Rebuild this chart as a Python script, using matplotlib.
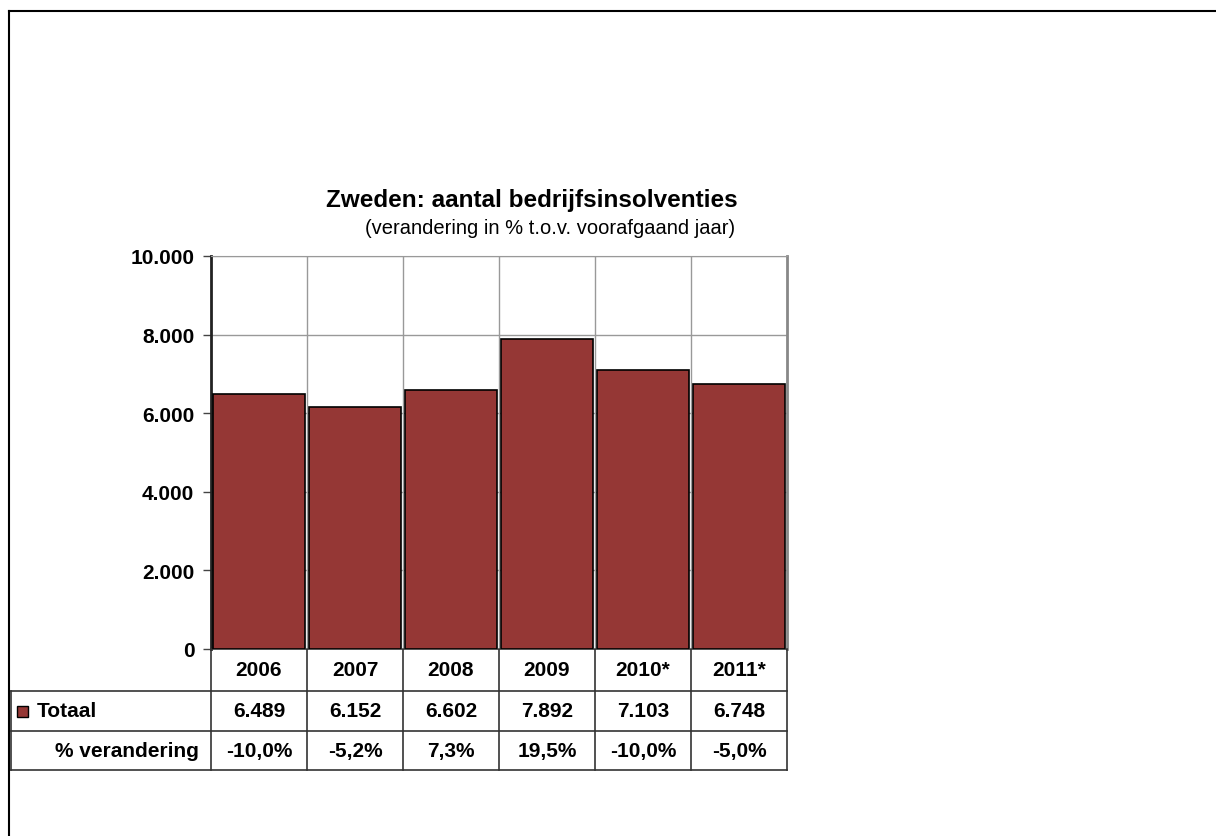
import matplotlib.pyplot as plt
from matplotlib.lines import Line2D
from matplotlib.patches import Rectangle
import numpy as np

plt.rcParams['font.family'] = ['Liberation Sans', 'DejaVu Sans']

# data
years = ["2006", "2007", "2008", "2009", "2010*", "2011*"]
totaal = [6489, 6152, 6602, 7892, 7103, 6748]
pct_change = [-10.0, -5.2, 7.3, 19.5, -10.0, -5.0]
y_ticks = [0, 2000, 4000, 6000, 8000, 10000]

BAR = "#953735"
W, H = 1216, 837
FS = 15


def nl_int(v):
    return f"{v:,}".replace(",", ".")


def nl_pct(v):
    return f"{v:.1f}%".replace(".", ",")


fig = plt.figure(figsize=(W / 100, H / 100), dpi=100)

# outer frame (left and top only)
fig.add_artist(Line2D([9 / W, 9 / W], [0, 1 - 12 / H], color="black", lw=1.5))
fig.add_artist(Line2D([9 / W, 1], [1 - 12 / H, 1 - 12 / H], color="black", lw=1.5))

# plot area in pixels
x0, x1, y_top, y_bot = 211, 787, 257, 650
ax = fig.add_axes([x0 / W, 1 - y_bot / H, (x1 - x0) / W, (y_bot - y_top) / H])
x = np.arange(len(years))
ax.bar(x, totaal, width=0.95, color=BAR, edgecolor="black", linewidth=1.2, zorder=3)
ax.set_xlim(-0.5, len(years) - 0.5)
ax.set_ylim(0, 10000)
ax.set_yticks(y_ticks)
ax.set_yticklabels([nl_int(v) for v in y_ticks], fontsize=FS, fontweight="bold")
ax.tick_params(axis="y", length=6, width=1, color="#444444", pad=6)
ax.set_xticks([])
for v in y_ticks[1:]:
    ax.axhline(v, color="#999999", lw=1, zorder=1)
for b in np.arange(0.5, len(years) - 0.5, 1):
    ax.axvline(b, color="#999999", lw=1, zorder=1)
ax.spines["left"].set_color("#222222")
ax.spines["left"].set_linewidth(2)
ax.spines["top"].set_color("#999999")
ax.spines["right"].set_color("#888888")
ax.spines["right"].set_linewidth(2)
ax.spines["bottom"].set_visible(False)

fig.text(532 / W, 1 - 200 / H, "Zweden: aantal bedrijfsinsolventies",
         ha="center", va="center", fontsize=17.5, fontweight="bold")
fig.text(550 / W, 1 - 229 / H, "(verandering in % t.o.v. voorafgaand jaar)",
         ha="center", va="center", fontsize=14.5)

# data table below the axes
cat_w = (x1 - x0) / len(years)
t_left, t_bot = 11, 771
tx0 = -0.5 - (x0 - t_left) / cat_w
tax = fig.add_axes([t_left / W, 1 - t_bot / H, (x1 - t_left) / W, (t_bot - y_bot) / H])
rows = [0, 42, 82, 121]  # row boundaries in pixels from top of table
tax.set_xlim(tx0, len(years) - 0.5)
tax.set_ylim(rows[-1], 0)
tax.axis("off")
lc = "#333333"
# horizontal lines
tax.plot([-0.5, len(years) - 0.5], [0, 0], color=lc, lw=1.2)
for r in rows[1:]:
    tax.plot([tx0, len(years) - 0.5], [r, r], color=lc, lw=1.2, clip_on=False)
# vertical lines
tax.plot([tx0, tx0], [rows[1], rows[-1]], color=lc, lw=1.2, clip_on=False)
for b in np.arange(-0.5, len(years), 1):
    tax.plot([b, b], [0, rows[-1]], color=lc, lw=1.2, clip_on=False)

for i, yr in enumerate(years):
    tax.text(i, (rows[0] + rows[1]) / 2, yr, ha="center", va="center",
             fontsize=FS, fontweight="bold")
    tax.text(i, (rows[1] + rows[2]) / 2, nl_int(totaal[i]), ha="center", va="center",
             fontsize=FS, fontweight="bold")
    tax.text(i, (rows[2] + rows[3]) / 2, nl_pct(pct_change[i]), ha="center", va="center",
             fontsize=FS, fontweight="bold")

px = 1 / cat_w
tax.add_patch(Rectangle((tx0 + 6 * px, (rows[1] + rows[2]) / 2 - 5.5), 11 * px, 11,
                        facecolor=BAR, edgecolor="black", lw=1, clip_on=False))
tax.text(tx0 + 26 * px, (rows[1] + rows[2]) / 2, "Totaal", ha="left", va="center",
         fontsize=FS, fontweight="bold")
tax.text(-0.5 - 12 * px, (rows[2] + rows[3]) / 2, "% verandering", ha="right", va="center",
         fontsize=FS, fontweight="bold")

fig.savefig("out.png", dpi=100, facecolor="white")
